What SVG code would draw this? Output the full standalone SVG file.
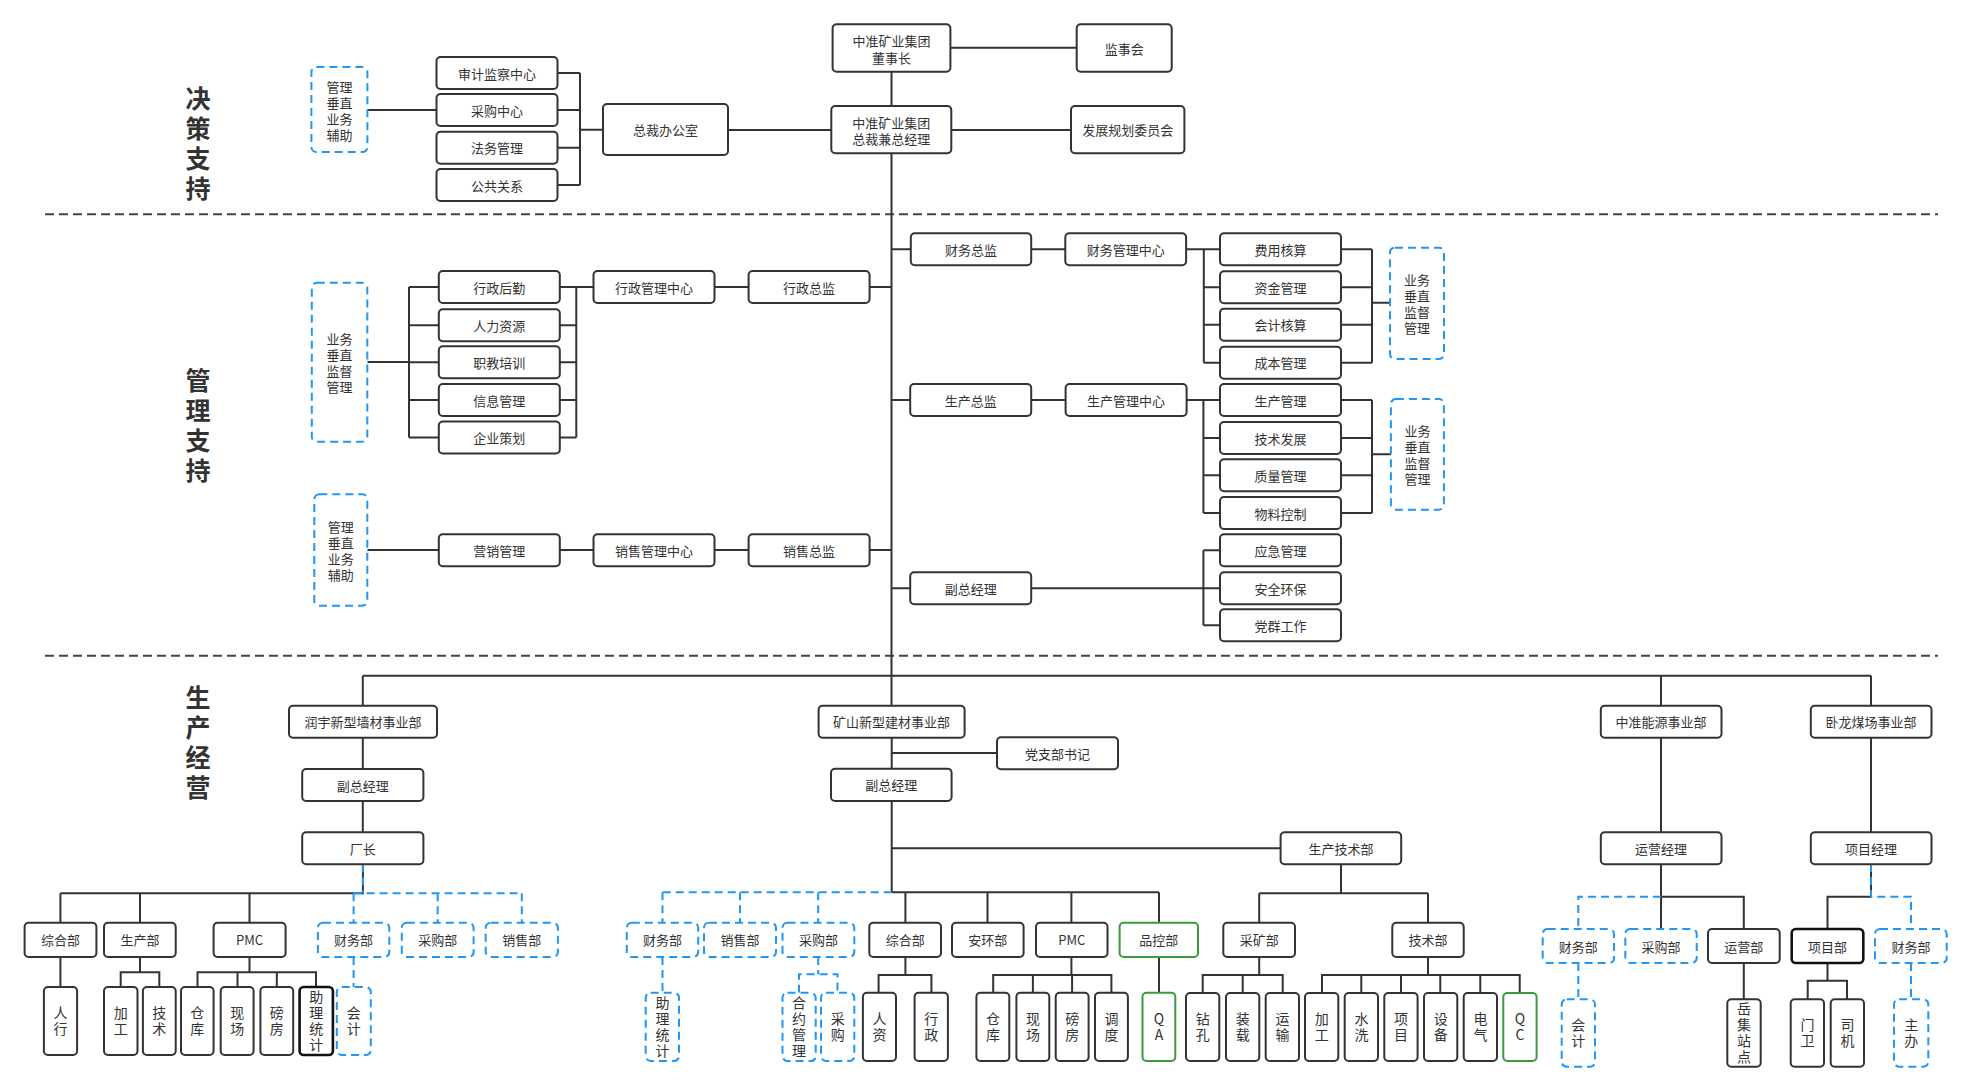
<svg xmlns="http://www.w3.org/2000/svg" width="1971" height="1091" viewBox="0 0 1971 1091">
<style>
.b{fill:#fff;stroke:#333;stroke-width:2}
.bk{fill:#fff;stroke:#111;stroke-width:2.6}
.bb{fill:#fff;stroke:#2196F3;stroke-width:2;stroke-dasharray:8 5}
.bg{fill:#fff;stroke:#3C9A3C;stroke-width:2}
.c{fill:none;stroke:#333;stroke-width:2}
.cb{fill:none;stroke:#2196F3;stroke-width:2;stroke-dasharray:8 5}
.sep{fill:none;stroke:#444;stroke-width:2;stroke-dasharray:9 5}
text{font-family:"Noto Sans CJK SC","Microsoft YaHei",sans-serif;fill:#333;text-anchor:middle;dominant-baseline:central}
.t{font-size:13px}
.v{font-size:14px;writing-mode:vertical-rl;letter-spacing:2px}
.u{text-orientation:upright}
.h{font-size:25px;font-weight:bold;writing-mode:vertical-rl;letter-spacing:5px}
</style>
<rect width="1971" height="1091" fill="#fff"/>

<g id="separators">
<path class="sep" d="M45 214.3H1938M45 655.7H1938"/>
</g>

<g id="labels">
<text class="h" x="198" y="145.5">决策支持</text>
<text class="h" x="198" y="427.5">管理支持</text>
<text class="h" x="198" y="744.5">生产经营</text>
</g>

<g id="connectors">
<path class="c" d="M891.5 71.7V106M950.4 47.7H1076.7M951.2 130H1071M728 130H831.3M891.5 153.3V705.7"/>
<path class="c" d="M557.7 73H580M557.7 110H580M557.7 147.7H580M557.7 185H580M580 73V185M580 129.7H603M367.4 110H436.5"/>
<path class="c" d="M891.5 249.3H910.8M1031.2 249.3H1065.3M1186.1 249.3H1220M1203.8 249.3V362.7M1203.8 287.3H1220M1203.8 324.7H1220M1203.8 362.7H1220"/>
<path class="c" d="M1341 249.3H1372M1341 287.3H1372M1341 324.7H1372M1341 362.7H1372M1372 249.3V362.7M1372 302.7H1390"/>
<path class="c" d="M891.5 400H910.2M1031.2 400H1065.6M1186.5 400H1220M1203.4 400V513M1203.4 438H1220M1203.4 475.3H1220M1203.4 513H1220"/>
<path class="c" d="M1341 400H1372M1341 438H1372M1341 475.3H1372M1341 513H1372M1372 400V513M1372 454.3H1390.9"/>
<path class="c" d="M891.5 588.3H910.2M1031.2 588.3H1220M1203.4 550.3V625.3M1203.4 550.3H1220M1203.4 625.3H1220"/>
<path class="c" d="M869.8 287H891.5M714.7 287H748.6M576.3 287H593.5M559.6 287H576.3M559.6 325.3H576.3M559.6 362.3H576.3M559.6 400H576.3M559.6 437.5H576.3M576.3 287V437.5"/>
<path class="c" d="M409 287H438.8M409 325.3H438.8M409 362.3H438.8M409 400H438.8M409 437.5H438.8M409 287V437.5M367.3 362H409"/>
<path class="c" d="M367.3 550H438.8M559.6 550H593.5M714.7 550H748.6M869.8 550H891.5"/>
<path class="c" d="M362.8 675.7H1871M362.8 675.7V705.7M1661 675.7V705.7M1871 675.7V705.7"/>
<path class="c" d="M362.8 737.7V769M362.8 801V832.3"/>
<path class="c" d="M891.7 737.7V768.7M891.7 753H997M891.7 801V892.3M891.7 848.3H1280.6"/>
<path class="c" d="M1661 737.7V832.3M1871 737.7V832.3"/>
<path class="c" d="M362.9 864.3V893.3H60.4M60.4 893.3V922.7M140 893.3V922.7M249.5 893.3V922.7"/>
<path class="cb" d="M362.9 864.3V893.3M353.6 893.3H521.8M353.6 893.3V922.7M437.7 893.3V922.7M521.8 893.3V922.7"/>
<path class="c" d="M60.4 957V987M140 957V972.3M120.7 987V972.3H159.3V987M249.5 957V972.3M197.5 987V972.3H316V987M237.5 972.3V987M276.8 972.3V987"/>
<path class="cb" d="M353.6 957V987"/>
<path class="c" d="M891.7 892.3H1159M905.4 892.3V922.7M987.5 892.3V922.7M1071.4 892.3V922.7M1159 892.3V922.7"/>
<path class="cb" d="M891.7 892.3H662.5M662.5 892.3V922.7M740 892.3V922.7M818.2 892.3V922.7"/>
<path class="c" d="M1341 864V893.3M1259.2 893.3H1428M1259.2 893.3V922.7M1428 893.3V922.7"/>
<path class="c" d="M905.4 957V975M878.6 992.7V975H931.4V992.7M1071.4 957V975M993.2 992.7V975H1111.4V992.7M1032.9 975V992.7M1072.1 975V992.7M1159 957V992.7"/>
<path class="c" d="M1259.2 957V975M1202.7 993V975H1282.7V993M1242.7 975V993M1428 957V975M1322 993V975H1519.7V993M1361.3 975V993M1401 975V993M1440.3 975V993M1480.3 975V993"/>
<path class="cb" d="M662.5 957V992.7M818.2 957V974.3M799 992.7V974.3H837.5V992.7"/>
<path class="c" d="M1661 864V929M1661 896.7H1743.8V929M1871 864V896.7H1827.5V929"/>
<path class="cb" d="M1661 896.7H1578.3V929M1871 864V896.7H1911V929"/>
<path class="c" d="M1743.8 963V999.3M1827.5 963V980.7M1807.7 999.3V980.7H1847V999.3"/>
<path class="cb" d="M1578.3 963V999.3M1911 963V999.3"/>
</g>

<g id="n_dsz"><rect class="b" x="832.6" y="24.3" width="117.8" height="47.4" rx="4"/><text class="t"><tspan x="891.5" y="40">中准矿业集团</tspan><tspan x="891.5" y="56.5">董事长</tspan></text></g>
<g id="n_jsh"><rect class="b" x="1076.7" y="24.3" width="95" height="47.4" rx="4"/><text class="t" x="1124.2" y="48">监事会</text></g>
<g id="n_zc"><rect class="b" x="831.3" y="106" width="120" height="47.3" rx="4"/><text class="t"><tspan x="891.3" y="121.5">中准矿业集团</tspan><tspan x="891.3" y="138">总裁兼总经理</tspan></text></g>
<g id="n_fzgh"><rect class="b" x="1071" y="106" width="113.4" height="47.3" rx="4"/><text class="t" x="1127.7" y="129.7">发展规划委员会</text></g>
<g id="n_zcb"><rect class="b" x="603" y="104" width="125" height="51" rx="4"/><text class="t" x="665.5" y="129.5">总裁办公室</text></g>
<g id="n_sjjc"><rect class="b" x="436.5" y="57" width="121" height="32" rx="4"/><text class="t" x="497" y="73">审计监察中心</text></g>
<g id="n_cgzx"><rect class="b" x="436.5" y="94" width="121" height="32" rx="4"/><text class="t" x="497" y="110">采购中心</text></g>
<g id="n_fwgl"><rect class="b" x="436.5" y="131.7" width="121" height="32" rx="4"/><text class="t" x="497" y="147.7">法务管理</text></g>
<g id="n_ggxx"><rect class="b" x="436.5" y="169" width="121" height="32" rx="4"/><text class="t" x="497" y="185">公共关系</text></g>
<g id="n_blue1"><rect class="bb" x="311.4" y="67" width="56" height="85" rx="5"/><text class="t"><tspan x="339.4" y="85.5">管理</tspan><tspan x="339.4" y="101.5">垂直</tspan><tspan x="339.4" y="117.5">业务</tspan><tspan x="339.4" y="133.5">辅助</tspan></text></g>

<g id="n_cwzj"><rect class="b" x="910.8" y="233.3" width="120.4" height="32" rx="4"/><text class="t" x="971" y="249.3">财务总监</text></g>
<g id="n_cwgl"><rect class="b" x="1065.3" y="233.3" width="120.8" height="32" rx="4"/><text class="t" x="1125.7" y="249.3">财务管理中心</text></g>
<g id="n_fyhs"><rect class="b" x="1220" y="233.3" width="121" height="32" rx="4"/><text class="t" x="1280.5" y="249.3">费用核算</text></g>
<g id="n_zjgl"><rect class="b" x="1220" y="271.3" width="121" height="32" rx="4"/><text class="t" x="1280.5" y="287.3">资金管理</text></g>
<g id="n_kjhs"><rect class="b" x="1220" y="308.7" width="121" height="32" rx="4"/><text class="t" x="1280.5" y="324.7">会计核算</text></g>
<g id="n_cbgl"><rect class="b" x="1220" y="346.7" width="121" height="32" rx="4"/><text class="t" x="1280.5" y="362.7">成本管理</text></g>
<g id="n_blue2"><rect class="bb" x="1390" y="247.7" width="54" height="111.3" rx="5"/><text class="t"><tspan x="1417" y="279.3">业务</tspan><tspan x="1417" y="295.3">垂直</tspan><tspan x="1417" y="311.3">监督</tspan><tspan x="1417" y="327.3">管理</tspan></text></g>
<g id="n_sczj"><rect class="b" x="910.2" y="384" width="121" height="32" rx="4"/><text class="t" x="970.7" y="400">生产总监</text></g>
<g id="n_scglzx"><rect class="b" x="1065.6" y="384" width="121" height="32" rx="4"/><text class="t" x="1126" y="400">生产管理中心</text></g>
<g id="n_scgl"><rect class="b" x="1220" y="384" width="121" height="32" rx="4"/><text class="t" x="1280.5" y="400">生产管理</text></g>
<g id="n_jsfz"><rect class="b" x="1220" y="422" width="121" height="32" rx="4"/><text class="t" x="1280.5" y="438">技术发展</text></g>
<g id="n_zlgl"><rect class="b" x="1220" y="459.3" width="121" height="32" rx="4"/><text class="t" x="1280.5" y="475.3">质量管理</text></g>
<g id="n_wlkz"><rect class="b" x="1220" y="497" width="121" height="32" rx="4"/><text class="t" x="1280.5" y="513">物料控制</text></g>
<g id="n_blue3"><rect class="bb" x="1390.9" y="399" width="53" height="110.7" rx="5"/><text class="t"><tspan x="1417.4" y="430.3">业务</tspan><tspan x="1417.4" y="446.3">垂直</tspan><tspan x="1417.4" y="462.3">监督</tspan><tspan x="1417.4" y="478.3">管理</tspan></text></g>
<g id="n_fzjl"><rect class="b" x="910.2" y="572.3" width="121" height="32" rx="4"/><text class="t" x="970.7" y="588.3">副总经理</text></g>
<g id="n_yjgl"><rect class="b" x="1220" y="534.3" width="121" height="32" rx="4"/><text class="t" x="1280.5" y="550.3">应急管理</text></g>
<g id="n_aqhb"><rect class="b" x="1220" y="572.3" width="121" height="32" rx="4"/><text class="t" x="1280.5" y="588.3">安全环保</text></g>
<g id="n_dqgz"><rect class="b" x="1220" y="609.3" width="121" height="32" rx="4"/><text class="t" x="1280.5" y="625.3">党群工作</text></g>
<g id="n_xzzj"><rect class="b" x="748.6" y="271" width="121" height="32" rx="4"/><text class="t" x="809.1" y="287">行政总监</text></g>
<g id="n_xzgl"><rect class="b" x="593.5" y="271" width="121" height="32" rx="4"/><text class="t" x="654" y="287">行政管理中心</text></g>
<g id="n_xzhq"><rect class="b" x="438.8" y="271" width="121" height="32" rx="4"/><text class="t" x="499.3" y="287">行政后勤</text></g>
<g id="n_rlzy"><rect class="b" x="438.8" y="309.3" width="121" height="32" rx="4"/><text class="t" x="499.3" y="325.3">人力资源</text></g>
<g id="n_zjpx"><rect class="b" x="438.8" y="346.3" width="121" height="32" rx="4"/><text class="t" x="499.3" y="362.3">职教培训</text></g>
<g id="n_xxgl"><rect class="b" x="438.8" y="384" width="121" height="32" rx="4"/><text class="t" x="499.3" y="400">信息管理</text></g>
<g id="n_qych"><rect class="b" x="438.8" y="421.5" width="121" height="32" rx="4"/><text class="t" x="499.3" y="437.5">企业策划</text></g>
<g id="n_blue4"><rect class="bb" x="311.8" y="282.7" width="55.5" height="159" rx="5"/><text class="t"><tspan x="339.5" y="338.2">业务</tspan><tspan x="339.5" y="354.2">垂直</tspan><tspan x="339.5" y="370.2">监督</tspan><tspan x="339.5" y="386.2">管理</tspan></text></g>
<g id="n_yxgl"><rect class="b" x="438.8" y="534.3" width="121" height="32" rx="4"/><text class="t" x="499.3" y="550.3">营销管理</text></g>
<g id="n_xsgl"><rect class="b" x="593.5" y="534.3" width="121" height="32" rx="4"/><text class="t" x="654" y="550.3">销售管理中心</text></g>
<g id="n_xszj"><rect class="b" x="748.6" y="534.3" width="121" height="32" rx="4"/><text class="t" x="809.1" y="550.3">销售总监</text></g>
<g id="n_blue5"><rect class="bb" x="314.3" y="494.3" width="53" height="111.4" rx="5"/><text class="t"><tspan x="340.8" y="526">管理</tspan><tspan x="340.8" y="542">垂直</tspan><tspan x="340.8" y="558">业务</tspan><tspan x="340.8" y="574">辅助</tspan></text></g>

<g id="n_ry"><rect class="b" x="289" y="705.7" width="148" height="32" rx="4"/><text class="t" x="363" y="721.7">润宇新型墙材事业部</text></g>
<g id="n_ry_fz"><rect class="b" x="302.2" y="769" width="121.2" height="32" rx="4"/><text class="t" x="362.8" y="785">副总经理</text></g>
<g id="n_ry_cz"><rect class="b" x="302.2" y="832.3" width="121.2" height="32" rx="4"/><text class="t" x="362.8" y="848.3">厂长</text></g>
<g id="n_ks"><rect class="b" x="818.6" y="705.7" width="146" height="32" rx="4"/><text class="t" x="891.6" y="721.7">矿山新型建材事业部</text></g>
<g id="n_dzb"><rect class="b" x="997" y="737.3" width="121" height="32" rx="4"/><text class="t" x="1057.5" y="753.3">党支部书记</text></g>
<g id="n_ks_fz"><rect class="b" x="831" y="768.7" width="120.6" height="32.3" rx="4"/><text class="t" x="891.3" y="784.8">副总经理</text></g>
<g id="n_scjs"><rect class="b" x="1280.6" y="832.3" width="120.6" height="32" rx="4"/><text class="t" x="1340.9" y="848.3">生产技术部</text></g>
<g id="n_zn"><rect class="b" x="1600.8" y="705.7" width="120.7" height="32" rx="4"/><text class="t" x="1661.1" y="721.7">中准能源事业部</text></g>
<g id="n_zn_yy"><rect class="b" x="1600.8" y="832.3" width="120.7" height="32" rx="4"/><text class="t" x="1661.1" y="848.3">运营经理</text></g>
<g id="n_wl"><rect class="b" x="1810.8" y="705.7" width="120.7" height="32" rx="4"/><text class="t" x="1871.1" y="721.7">卧龙煤场事业部</text></g>
<g id="n_wl_xm"><rect class="b" x="1810.8" y="832.3" width="120.7" height="32" rx="4"/><text class="t" x="1871.1" y="848.3">项目经理</text></g>

<g id="n_l_zh"><rect class="b" x="24.6" y="922.7" width="71.8" height="34.3" rx="4"/><text class="t" x="60.5" y="939.8">综合部</text></g>
<g id="n_l_sc"><rect class="b" x="104" y="922.7" width="71.7" height="34.3" rx="4"/><text class="t" x="139.9" y="939.8">生产部</text></g>
<g id="n_l_pmc"><rect class="b" x="213.6" y="922.7" width="72" height="34.3" rx="4"/><text class="t" x="249.6" y="939.8">PMC</text></g>
<g id="n_l_cw"><rect class="bb" x="317.9" y="922.7" width="71.4" height="34.3" rx="5"/><text class="t" x="353.6" y="939.8">财务部</text></g>
<g id="n_l_cg"><rect class="bb" x="401.8" y="922.7" width="71.8" height="34.3" rx="5"/><text class="t" x="437.7" y="939.8">采购部</text></g>
<g id="n_l_xs"><rect class="bb" x="485.7" y="922.7" width="72.2" height="34.3" rx="5"/><text class="t" x="521.8" y="939.8">销售部</text></g>
<g id="n_l_rx"><rect class="b" x="43.9" y="987" width="33.2" height="68" rx="4"/><text class="v" x="60.5" y="1022">人行</text></g>
<g id="n_l_jg"><rect class="b" x="104" y="987" width="33.5" height="68" rx="4"/><text class="v" x="120.7" y="1022">加工</text></g>
<g id="n_l_js"><rect class="b" x="142.9" y="987" width="32.8" height="68" rx="4"/><text class="v" x="159.3" y="1022">技术</text></g>
<g id="n_l_ck"><rect class="b" x="181" y="987" width="32.6" height="68" rx="4"/><text class="v" x="197.3" y="1022">仓库</text></g>
<g id="n_l_xc"><rect class="b" x="220.7" y="987" width="32.9" height="68" rx="4"/><text class="v" x="237.2" y="1022">现场</text></g>
<g id="n_l_bf"><rect class="b" x="260.4" y="987" width="32.8" height="68" rx="4"/><text class="v" x="276.8" y="1022">磅房</text></g>
<g id="n_l_zltj"><rect class="bk" x="299.6" y="987" width="33.3" height="68" rx="4"/><text class="v" x="316.2" y="1022">助理统计</text></g>
<g id="n_l_kj"><rect class="bb" x="336.8" y="987" width="34" height="68" rx="5"/><text class="v" x="353.8" y="1022">会计</text></g>

<g id="n_m_cw"><rect class="bb" x="626.8" y="922.7" width="71.4" height="34.3" rx="5"/><text class="t" x="662.5" y="939.8">财务部</text></g>
<g id="n_m_xs"><rect class="bb" x="704" y="922.7" width="72" height="34.3" rx="5"/><text class="t" x="740" y="939.8">销售部</text></g>
<g id="n_m_cg"><rect class="bb" x="782.5" y="922.7" width="71.8" height="34.3" rx="5"/><text class="t" x="818.4" y="939.8">采购部</text></g>
<g id="n_m_zh"><rect class="b" x="869.3" y="922.7" width="71.7" height="34.3" rx="4"/><text class="t" x="905.2" y="939.8">综合部</text></g>
<g id="n_m_ah"><rect class="b" x="952" y="922.7" width="71.6" height="34.3" rx="4"/><text class="t" x="987.8" y="939.8">安环部</text></g>
<g id="n_m_pmc"><rect class="b" x="1036" y="922.7" width="71.5" height="34.3" rx="4"/><text class="t" x="1071.8" y="939.8">PMC</text></g>
<g id="n_m_pk"><rect class="bg" x="1119.6" y="922.7" width="78.4" height="34.3" rx="4"/><text class="t" x="1158.8" y="939.8">品控部</text></g>
<g id="n_m_ck"><rect class="b" x="1223.3" y="922.7" width="71.7" height="34.3" rx="4"/><text class="t" x="1259.2" y="939.8">采矿部</text></g>
<g id="n_m_js"><rect class="b" x="1392.3" y="922.7" width="71.4" height="34.3" rx="4"/><text class="t" x="1428" y="939.8">技术部</text></g>
<g id="n_m_zltj"><rect class="bb" x="645.7" y="992.7" width="33.3" height="68.3" rx="5"/><text class="v" x="662.4" y="1028">助理统计</text></g>
<g id="n_m_hygl"><rect class="bb" x="782.5" y="992.7" width="33.2" height="68.3" rx="5"/><text class="v" x="799.1" y="1028">合约管理</text></g>
<g id="n_m_cgx"><rect class="bb" x="821" y="992.7" width="33.3" height="68.3" rx="5"/><text class="v" x="837.7" y="1028">采购</text></g>
<g id="n_m_rz"><rect class="b" x="862.9" y="992.7" width="33.1" height="68.3" rx="4"/><text class="v" x="879.4" y="1028">人资</text></g>
<g id="n_m_xz"><rect class="b" x="914.6" y="992.7" width="33.3" height="68.3" rx="4"/><text class="v" x="931.2" y="1028">行政</text></g>
<g id="n_m_cku"><rect class="b" x="976.4" y="992.7" width="32.9" height="68.3" rx="4"/><text class="v" x="992.9" y="1028">仓库</text></g>
<g id="n_m_xc"><rect class="b" x="1016.4" y="992.7" width="32.9" height="68.3" rx="4"/><text class="v" x="1032.9" y="1028">现场</text></g>
<g id="n_m_bf"><rect class="b" x="1055.7" y="992.7" width="32.9" height="68.3" rx="4"/><text class="v" x="1072.2" y="1028">磅房</text></g>
<g id="n_m_dd"><rect class="b" x="1095" y="992.7" width="32.9" height="68.3" rx="4"/><text class="v" x="1111.5" y="1028">调度</text></g>
<g id="n_m_qa"><rect class="bg" x="1142.5" y="992.7" width="32.8" height="68.3" rx="4"/><text class="v u" x="1158.9" y="1028">QA</text></g>
<g id="n_m_zk"><rect class="b" x="1186" y="993" width="33.3" height="68" rx="4"/><text class="v" x="1202.7" y="1028">钻孔</text></g>
<g id="n_m_zz"><rect class="b" x="1226" y="993" width="33.3" height="68" rx="4"/><text class="v" x="1242.7" y="1028">装载</text></g>
<g id="n_m_ys"><rect class="b" x="1265.7" y="993" width="33.3" height="68" rx="4"/><text class="v" x="1282.4" y="1028">运输</text></g>
<g id="n_m_jg"><rect class="b" x="1305" y="993" width="33.3" height="68" rx="4"/><text class="v" x="1321.7" y="1028">加工</text></g>
<g id="n_m_sx"><rect class="b" x="1344.7" y="993" width="33.3" height="68" rx="4"/><text class="v" x="1361.4" y="1028">水洗</text></g>
<g id="n_m_xm"><rect class="b" x="1384.3" y="993" width="33.3" height="68" rx="4"/><text class="v" x="1401" y="1028">项目</text></g>
<g id="n_m_sb"><rect class="b" x="1424" y="993" width="33.3" height="68" rx="4"/><text class="v" x="1440.7" y="1028">设备</text></g>
<g id="n_m_dq"><rect class="b" x="1463.7" y="993" width="33.3" height="68" rx="4"/><text class="v" x="1480.4" y="1028">电气</text></g>
<g id="n_m_qc"><rect class="bg" x="1503.3" y="993" width="33.3" height="68" rx="4"/><text class="v u" x="1520" y="1028">QC</text></g>

<g id="n_r_cw1"><rect class="bb" x="1542.7" y="929" width="71.3" height="34" rx="5"/><text class="t" x="1578.3" y="946">财务部</text></g>
<g id="n_r_cg"><rect class="bb" x="1625.3" y="929" width="71.4" height="34" rx="5"/><text class="t" x="1661" y="946">采购部</text></g>
<g id="n_r_yy"><rect class="b" x="1708" y="929" width="71.7" height="34" rx="4"/><text class="t" x="1743.8" y="946">运营部</text></g>
<g id="n_r_xm"><rect class="bk" x="1791.7" y="929" width="71.6" height="34" rx="4"/><text class="t" x="1827.5" y="946">项目部</text></g>
<g id="n_r_cw2"><rect class="bb" x="1875" y="929" width="71.7" height="34" rx="5"/><text class="t" x="1910.9" y="946">财务部</text></g>
<g id="n_r_kj"><rect class="bb" x="1561.7" y="999.3" width="33.3" height="67.4" rx="5"/><text class="v" x="1578.3" y="1034">会计</text></g>
<g id="n_r_yjzd"><rect class="b" x="1727.3" y="999.3" width="33.4" height="67.4" rx="4"/><text class="v" x="1744" y="1034">岳集站点</text></g>
<g id="n_r_mw"><rect class="b" x="1790.7" y="999.3" width="33.3" height="67.4" rx="4"/><text class="v" x="1807.4" y="1034">门卫</text></g>
<g id="n_r_sj"><rect class="b" x="1830.7" y="999.3" width="33.3" height="67.4" rx="4"/><text class="v" x="1847.4" y="1034">司机</text></g>
<g id="n_r_zb"><rect class="bb" x="1894" y="999.3" width="34.3" height="67.4" rx="5"/><text class="v" x="1911.2" y="1034">主办</text></g>
</svg>
